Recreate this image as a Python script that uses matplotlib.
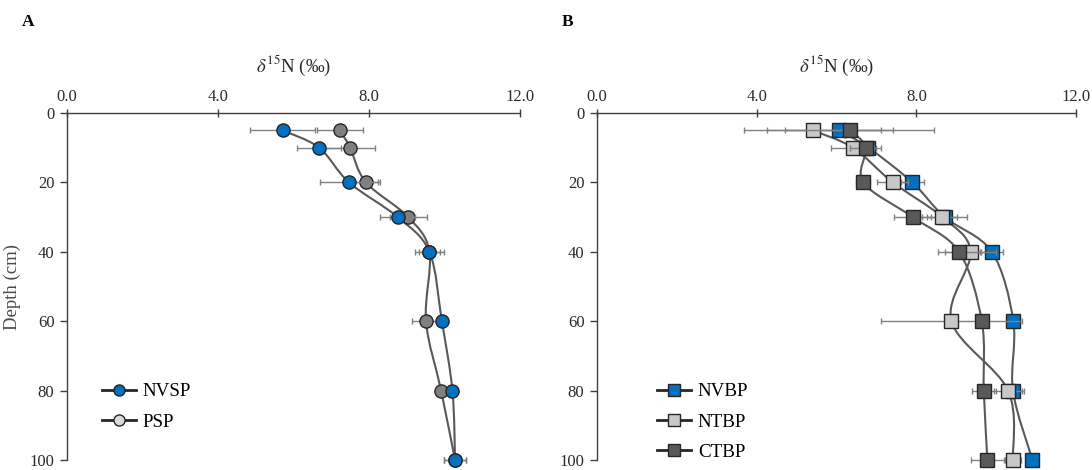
import numpy as np
import matplotlib
matplotlib.use("Agg")
import matplotlib.pyplot as plt
from matplotlib.path import Path
from matplotlib.patches import PathPatch
from matplotlib.lines import Line2D

plt.rcParams['font.family'] = ['Liberation Serif', 'DejaVu Serif']
plt.rcParams['mathtext.fontset'] = 'stix'

# depth of each sampling layer (cm)
depth = [5, 10, 20, 30, 40, 60, 80, 100]

# panel A
nvsp = [5.71, 6.68, 7.47, 8.76, 9.60, 9.93, 10.21, 10.28]
nvsp_err = [0.86, 0.59, 0.77, 0.47, 0.27, 0.12, 0.15, 0.29]
psp = [7.23, 7.50, 7.92, 9.04, 9.60, 9.51, 9.91, 10.28]
psp_err = [0.62, 0.66, 0.37, 0.49, 0.38, 0.38, 0.10, 0.29]

# panel B
nvbp = [6.06, 6.80, 7.90, 8.71, 9.89, 10.43, 10.42, 10.91]
nvbp_err = [1.36, 0.20, 0.29, 0.57, 0.28, 0.15, 0.28, 0.15]
ntbp = [5.40, 6.41, 7.41, 8.65, 9.36, 8.88, 10.30, 10.42]
ntbp_err = [1.71, 0.54, 0.39, 0.38, 0.64, 1.76, 0.35, 0.20]
ctbp = [6.35, 6.73, 6.67, 7.91, 9.07, 9.64, 9.69, 9.78]
ctbp_err = [2.09, 0.39, 0.18, 0.46, 0.52, 0.15, 0.30, 0.42]

xticks = [0, 4, 8, 12]
xticklabels = ['0.0', '4.0', '8.0', '12.0']
yticks = [0, 20, 40, 60, 80, 100]

LINE = '#595959'
ERR = '#808080'
TXT = '#2e2a26'


def smooth_path(x, y):
    # Excel-like smoothed line (Catmull-Rom as cubic Bezier)
    pts = np.column_stack([x, y]).astype(float)
    verts = [pts[0]]
    codes = [Path.MOVETO]
    n = len(pts)
    for i in range(n - 1):
        p0 = pts[i - 1] if i > 0 else pts[i]
        p1 = pts[i]
        p2 = pts[i + 1]
        p3 = pts[i + 2] if i + 2 < n else pts[i + 1]
        verts += [p1 + (p2 - p0) / 6, p2 - (p3 - p1) / 6, p2]
        codes += [Path.CURVE4] * 3
    return Path(verts, codes)


def setup(ax):
    ax.set_xlim(0, 12)
    ax.set_ylim(100, 0)
    ax.xaxis.tick_top()
    ax.xaxis.set_label_position('top')
    ax.set_xticks(xticks)
    ax.set_xticklabels(xticklabels)
    ax.set_yticks(yticks)
    ax.spines['right'].set_visible(False)
    ax.spines['bottom'].set_visible(False)
    for s in ('top', 'left'):
        ax.spines[s].set_color('#404040')
        ax.spines[s].set_linewidth(1.0)
    ax.tick_params(axis='x', direction='inout', length=6, width=1,
                   color='#404040', labelsize=12, labelcolor=TXT, pad=3)
    ax.tick_params(axis='y', direction='out', length=5, width=1,
                   color='#404040', labelsize=12, labelcolor=TXT, pad=4)
    ax.set_xlabel(r'$\delta^{15}$N (‰)', fontsize=13.5, color=TXT,
                  labelpad=12)


def series(ax, x, err, marker, face, z):
    ax.add_patch(PathPatch(smooth_path(x, depth), facecolor='none',
                           edgecolor=LINE, lw=1.5, zorder=1))
    eb = ax.errorbar(x, depth, xerr=err, fmt='none', ecolor=ERR,
                     elinewidth=1, capsize=2.5, capthick=1, zorder=z)
    for art in eb.get_children():
        art.set_clip_on(False)
    ax.plot(x, depth, linestyle='none', marker=marker, markersize=9.5,
            markerfacecolor=face, markeredgecolor='#262626',
            markeredgewidth=1, zorder=z + 0.5, clip_on=False)


fig = plt.figure(figsize=(10.92, 4.70), dpi=100)
axA = fig.add_axes([67 / 1092, 10 / 470, 453 / 1092, 347 / 470])
axB = fig.add_axes([597 / 1092, 10 / 470, 479 / 1092, 347 / 470])
for ax in (axA, axB):
    setup(ax)

series(axA, psp, psp_err, 'o', '#808080', 2)
series(axA, nvsp, nvsp_err, 'o', '#0070C0', 3)
axA.set_ylabel('Depth (cm)', fontsize=13.5, color='#4a4a4a', labelpad=6)

series(axB, nvbp, nvbp_err, 's', '#0070C0', 2)
series(axB, ntbp, ntbp_err, 's', '#C8C8C8', 3)
series(axB, ctbp, ctbp_err, 's', '#595959', 4)

hA = [Line2D([], [], color='#262626', lw=2, marker='o', markersize=8,
             markerfacecolor='#0070C0', markeredgecolor='#262626'),
      Line2D([], [], color='#262626', lw=2, marker='o', markersize=8,
             markerfacecolor='#D9D9D9', markeredgecolor='#262626')]
axA.legend(hA, ['NVSP', 'PSP'], loc='upper left',
           bbox_to_anchor=(0.077, 0.222), frameon=False, fontsize=13.7,
           handlelength=1.8, handletextpad=0.35, labelspacing=0.68,
           borderpad=0, borderaxespad=0)

hB = [Line2D([], [], color='#262626', lw=2, marker='s', markersize=8,
             markerfacecolor=c, markeredgecolor='#262626')
      for c in ('#0070C0', '#C8C8C8', '#595959')]
axB.legend(hB, ['NVBP', 'NTBP', 'CTBP'], loc='upper left',
           bbox_to_anchor=(0.125, 0.222), frameon=False, fontsize=13.7,
           handlelength=1.8, handletextpad=0.35, labelspacing=0.68,
           borderpad=0, borderaxespad=0)

fig.text(22 / 1092, 1 - 22 / 470, 'A', fontsize=12.5, fontweight='bold',
         va='center', ha='left')
fig.text(562 / 1092, 1 - 22 / 470, 'B', fontsize=12.5, fontweight='bold',
         va='center', ha='left')

fig.savefig('out.png', dpi=100)
